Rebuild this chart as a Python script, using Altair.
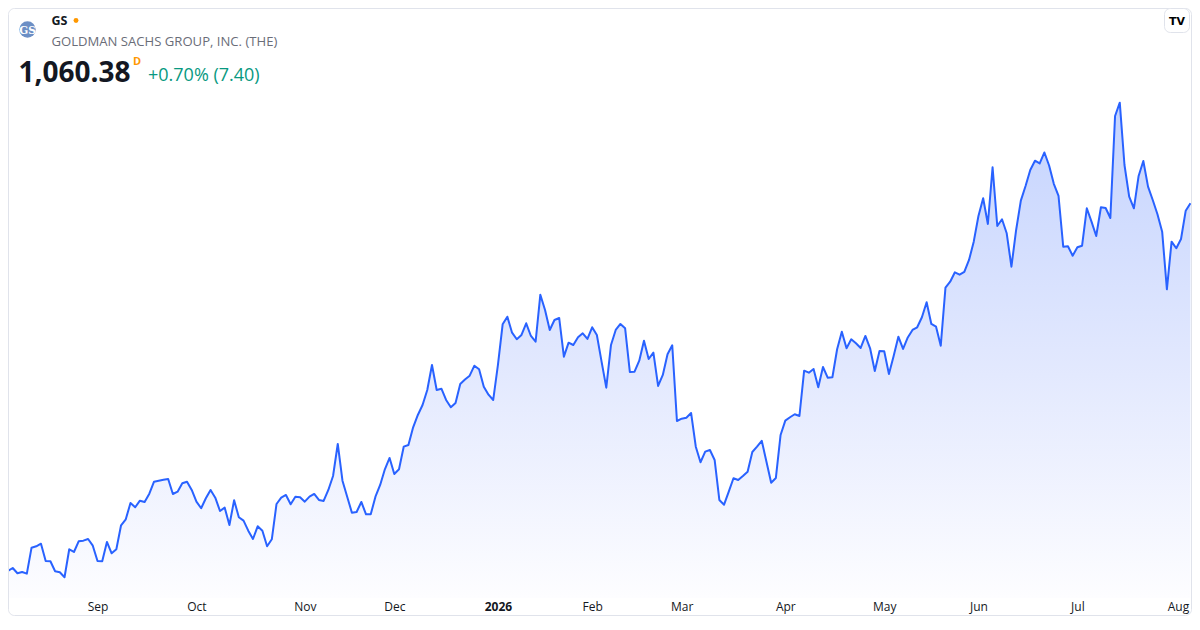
import altair as alt
import pandas as pd

# ---------------- data ----------------
ticker = "GS"
company = "GOLDMAN SACHS GROUP, INC. (THE)"
last_price = "1,060.38"
session_flag = "D"
change_text = "+0.70% (7.40)"
logo_text = "GS"
tv_text = "TV"

prices = [
    692.7, 695.7, 690.4, 691.7, 690.0, 716.0, 717.4, 720.0, 702.7, 702.4,
    692.4, 691.4, 686.4, 714.4, 711.7, 722.4, 723.0, 724.7, 718.0, 702.7,
    702.4, 721.7, 710.4, 714.4, 738.4, 744.4, 760.7, 756.4, 763.0, 761.7,
    770.0, 782.0, 783.0, 784.0, 784.7, 769.7, 772.0, 780.4, 782.0, 773.7,
    762.0, 755.4, 765.4, 773.7, 766.0, 752.7, 756.0, 738.7, 763.4, 746.4,
    743.0, 733.0, 724.7, 737.4, 733.0, 717.4, 724.4, 759.7, 766.0, 768.7,
    759.4, 767.0, 766.4, 762.0, 767.0, 769.7, 763.7, 762.7, 773.7, 787.7,
    819.7, 783.0, 767.0, 751.0, 751.7, 761.7, 749.4, 749.4, 767.0, 778.7,
    794.4, 805.7, 789.7, 794.4, 817.0, 818.7, 836.4, 848.7, 858.7, 873.7,
    898.7, 873.7, 875.0, 863.7, 856.4, 860.7, 879.7, 884.2, 888.0, 898.0,
    894.4, 877.0, 869.0, 863.7, 898.7, 939.4, 947.0, 931.0, 924.4, 928.7,
    940.4, 927.7, 922.0, 969.0, 953.7, 933.7, 943.7, 945.7, 907.0, 921.0,
    918.7, 926.4, 930.4, 924.7, 936.4, 928.7, 902.0, 876.0, 918.7, 933.7,
    939.7, 935.4, 891.7, 892.0, 903.0, 923.0, 904.7, 911.0, 877.7, 888.7,
    909.4, 918.4, 842.7, 845.0, 846.0, 850.7, 817.0, 801.4, 812.0, 813.7,
    803.7, 763.7, 759.0, 772.0, 785.4, 783.7, 787.7, 792.0, 811.7, 817.0,
    822.9, 802.0, 781.0, 785.7, 828.7, 843.0, 846.4, 849.4, 847.7, 893.0,
    891.0, 894.7, 876.4, 896.7, 886.0, 886.4, 914.4, 932.0, 915.4, 924.4,
    920.4, 915.7, 927.7, 915.4, 892.7, 912.7, 912.4, 889.7, 907.7, 927.0,
    914.7, 926.2, 933.7, 936.4, 946.4, 961.4, 939.7, 937.0, 918.0, 976.0,
    982.0, 991.4, 989.0, 991.7, 1003.7, 1022.0, 1047.7, 1065.4, 1039.7, 1096.4,
    1037.7, 1044.4, 1030.4, 997.0, 1033.7, 1063.0, 1077.7, 1093.7, 1103.0, 1100.2,
    1111.2, 1098.2, 1079.9, 1067.7, 1017.0, 1017.4, 1008.0, 1016.4, 1018.0, 1055.4,
    1042.0, 1027.7, 1056.4, 1055.7, 1045.7, 1147.7, 1161.0, 1098.7, 1067.0, 1055.4,
    1087.7, 1102.7, 1077.0, 1063.7, 1049.4, 1032.0, 974.4, 1022.0, 1015.4, 1024.7,
    1052.98, 1060.38,
]

month_labels = ["Sep", "Oct", "Nov", "Dec", "2026", "Feb", "Mar", "Apr", "May", "Jun", "Jul", "Aug"]
month_index = [19, 40, 63, 82, 104, 124, 143, 165, 186, 206, 227, 249]
bold_label = "2026"

y_min, y_max = 665.68, 1255.68
df = pd.DataFrame({"i": list(range(len(prices))), "price": prices})

# ---------------- style ----------------
FONT = "Open Sans"
LINE = "#2962ff"
TEXT = "#131722"

xscale = alt.Scale(domain=[0, 251.12], nice=False, zero=False)
yscale = alt.Scale(domain=[y_min, y_max], nice=False, zero=False)

label_expr = ""
bold_idx = None
for idx, lab in zip(month_index, month_labels):
    label_expr += f"datum.value == {idx} ? '{lab}' : "
    if lab == bold_label:
        bold_idx = idx
label_expr += "''"
last_idx = month_index[-1]

xaxis = alt.Axis(
    values=month_index,
    labelExpr=label_expr,
    domain=False,
    ticks=False,
    tickSize=0,
    grid=False,
    title=None,
    labelFont=FONT,
    labelFontSize=12,
    labelColor=TEXT,
    labelPadding=8,
    labelBaseline="middle",
    labelOverlap=False,
    labelFlush=False,
    labelBound=False,
    zindex=2,
    labelOffset={"condition": {"test": f"datum.value == {last_idx}", "value": -3}, "value": 0},
    labelFontWeight={"condition": {"test": f"datum.value == {bold_idx}", "value": "bold"}, "value": "normal"},
)

gradient = alt.Gradient(
    gradient="linear",
    stops=[
        alt.GradientStop(color="#c4d3fe", offset=0),
        alt.GradientStop(color="#e3e9fe", offset=0.55),
        alt.GradientStop(color="#fdfdff", offset=1),
    ],
    x1=1, x2=1, y1=0, y2=1,
)

area = alt.Chart(df).mark_area(color=gradient, interpolate="linear").encode(
    x=alt.X("i:Q", scale=xscale, axis=xaxis),
    y=alt.Y("price:Q", scale=yscale, axis=None),
    y2=alt.datum(y_min),
)

line = alt.Chart(df).mark_line(color=LINE, strokeWidth=2, strokeJoin="round", interpolate="linear").encode(
    x=alt.X("i:Q", scale=xscale),
    y=alt.Y("price:Q", scale=yscale, axis=None),
)


def txt(s, x, y, size, color=TEXT, weight="normal", font=FONT, align="left", baseline="alphabetic"):
    return alt.Chart(pd.DataFrame({"t": [s]})).mark_text(
        font=font, fontSize=size, fontWeight=weight, color=color, align=align, baseline=baseline
    ).encode(text="t:N", x=alt.value(x), y=alt.value(y))


one = pd.DataFrame({"a": [0]})

border = alt.Chart(one).mark_rect(
    fill="transparent", stroke="#e0e3eb", strokeWidth=1, cornerRadius=6
).encode(x=alt.value(0.5), x2=alt.value(1183.5), y=alt.value(0.5), y2=alt.value(607.5))

logo = alt.Chart(one).mark_point(filled=True, size=270, color="#6c8fc5", opacity=1, shape="circle").encode(
    x=alt.value(19.5), y=alt.value(21.5)
)
logo_t = txt(logo_text, 19.5, 25.5, 10.5, color="#ffffff", weight="bold", font="DejaVu Serif", align="center")

dot = alt.Chart(one).mark_point(filled=True, size=24, color="#ff9800", opacity=1, shape="circle").encode(
    x=alt.value(68), y=alt.value(12.5)
)

tv_box = alt.Chart(one).mark_rect(
    fill="#ffffff", stroke="#e0e3eb", strokeWidth=1, cornerRadius=6
).encode(x=alt.value(1156.5), x2=alt.value(1181.5), y=alt.value(0.5), y2=alt.value(24.5))
tv_t = txt(tv_text, 1169, 17, 11, color="#000000", weight="bold", font="DejaVu Sans", align="center")

layers = [
    area,
    line,
    border,
    logo,
    logo_t,
    txt(ticker, 43.5, 17, 12.5, weight="bold"),
    dot,
    txt(company, 43.5, 37.5, 13.1, color="#6a6d78"),
    txt(last_price, 10.5, 73.5, 28, weight="bold"),
    txt(session_flag, 125, 57, 11, color="#ff9800", weight="bold"),
    txt(change_text, 140, 73, 18, color="#089981"),
    tv_box,
    tv_t,
]

chart = alt.layer(*layers).properties(
    width=1183,
    height=590,
    autosize=alt.AutoSizeParams(type="none"),
    padding={"left": 0, "top": 0, "right": 1, "bottom": 18},
    background="#ffffff",
).configure_view(stroke=None)

chart.save("out.html", embed_options={"renderer": "svg", "actions": False})
